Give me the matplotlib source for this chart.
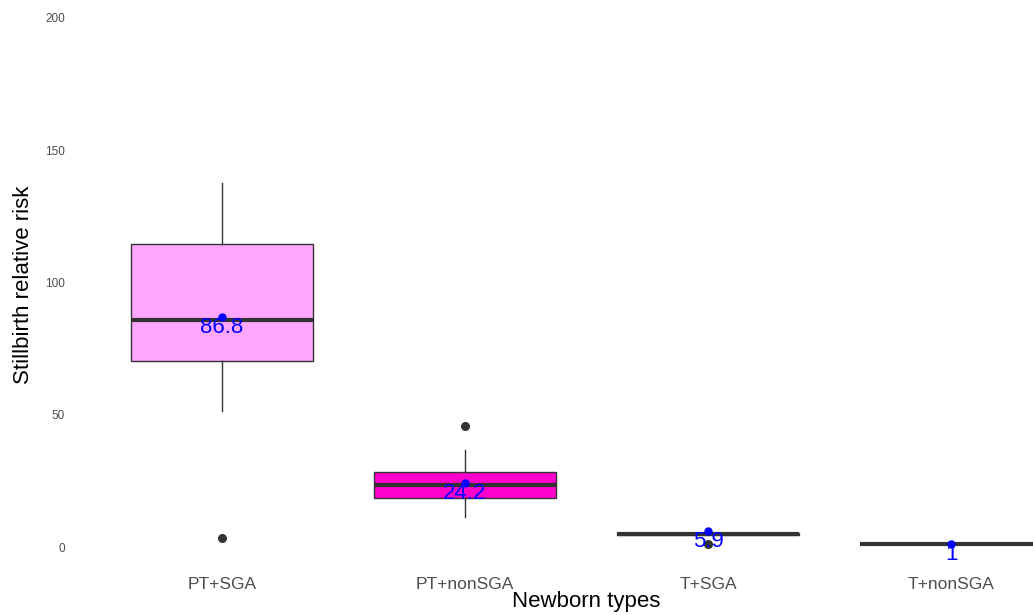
import numpy as np
import matplotlib.pyplot as plt

plt.rcParams['font.family'] = ['Liberation Sans', 'DejaVu Sans']

# data
groups = ["PT+SGA", "PT+nonSGA", "T+SGA", "T+nonSGA"]
whislo = [51.5, 11.5, 4.4, 1.0]
q1 = [70.5, 18.6, 4.4, 1.0]
med = [85.8, 23.3, 4.9, 1.0]
q3 = [114.6, 28.4, 5.3, 1.0]
whishi = [137.5, 36.7, 5.3, 1.0]
fliers = [[3.5], [45.7], [1.0], []]
means = [86.8, 24.2, 5.9, 1]
fills = ["#FFA6FF", "#FF00CC", "#E600E6", "#CC00FF"]

fig = plt.figure(figsize=(10.33, 6.15), dpi=100)
# panel runs past the right edge, like the cropped original
ax = fig.add_axes([76 / 1033, 55 / 615, 1021 / 1033, 555 / 615])

stats = []
for i in range(len(groups)):
    stats.append(dict(label=groups[i], whislo=whislo[i], q1=q1[i], med=med[i],
                      q3=q3[i], whishi=whishi[i], fliers=fliers[i]))

pos = np.arange(1, len(groups) + 1)
bp = ax.bxp(stats, positions=pos, widths=0.75, patch_artist=True, showcaps=False,
            boxprops=dict(edgecolor="#333333", linewidth=1.0),
            medianprops=dict(color="#333333", linewidth=3.0, solid_capstyle="butt"),
            whiskerprops=dict(color="#333333", linewidth=1.0),
            flierprops=dict(marker="o", markerfacecolor="#333333",
                            markeredgecolor="#333333", markersize=5.5))
for patch, c in zip(bp["boxes"], fills):
    patch.set_facecolor(c)

# mean points and labels
ax.plot(pos, means, "o", color="blue", markersize=5, zorder=5)
for x, m in zip(pos, means):
    ax.text(x, m, "%g" % m, color="blue", fontsize=16, ha="center", va="top", zorder=6)

ax.set_xlim(0.4, 4.6)
ax.set_ylim(-4.9, 204.9)
ax.set_yticks([0, 50, 100, 150, 200])
ax.set_xticks(pos)
ax.set_xticklabels(groups)
ax.tick_params(axis="y", length=0, pad=8, labelsize=8.5, labelcolor="#4D4D4D")
ax.tick_params(axis="x", length=0, pad=12, labelsize=12.5, labelcolor="#4D4D4D")
for s in ax.spines.values():
    s.set_visible(False)

fig.text(24 / 1033, 1 - 285 / 615, "Stillbirth relative risk", rotation=90,
         fontsize=16, ha="center", va="center")
fig.text(586 / 1033, 1 - 601 / 615, "Newborn types", fontsize=16,
         ha="center", va="center")

fig.savefig("out.png", dpi=100)
